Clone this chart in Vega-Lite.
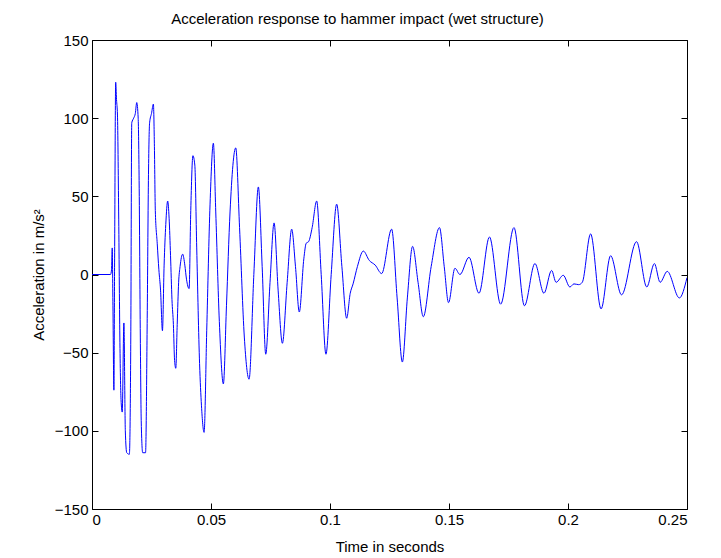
{
  "$schema": "https://vega.github.io/schema/vega-lite/v6.json",
  "width": 595,
  "height": 469,
  "autosize": "none",
  "padding": {"left": 92, "top": 40, "right": 34, "bottom": 49},
  "background": "white",
  "title": {"text": "Acceleration response to hammer impact (wet structure)", "fontSize": 15, "font": "Liberation Sans", "fontWeight": "normal", "color": "black", "offset": 6, "anchor": "middle", "dx": -32},
  "config": {
    "view": {"stroke": "black", "strokeWidth": 1},
    "axis": {"domain": false, "grid": false, "tickSize": -6, "tickColor": "black", "tickWidth": 1, "labelFont": "Liberation Sans", "labelFontSize": 15, "labelColor": "black", "titleFont": "Liberation Sans", "titleFontSize": 15, "titleFontWeight": "normal", "titleColor": "black"}
  },
  "data": {"values": [
    {"t": 0, "a": 0}, {"t": 0.0078, "a": 0}, {"t": 0.0082, "a": 3}, {"t": 0.0085, "a": 17}, {"t": 0.0088, "a": -20}, {"t": 0.0092, "a": -74}, {"t": 0.0095, "a": 10}, {"t": 0.00995, "a": 123}, {"t": 0.0103, "a": 112}, {"t": 0.0107, "a": 102}, {"t": 0.0112, "a": 40}, {"t": 0.0117, "a": -40}, {"t": 0.0122, "a": -80}, {"t": 0.0127, "a": -88}, {"t": 0.0134, "a": -31}, {"t": 0.014, "a": -100}, {"t": 0.0146, "a": -114}, {"t": 0.0157, "a": -115}, {"t": 0.0163, "a": -40}, {"t": 0.0167, "a": 97}, {"t": 0.0175, "a": 100}, {"t": 0.0182, "a": 103}, {"t": 0.0188, "a": 110}, {"t": 0.0194, "a": 100}, {"t": 0.0198, "a": 60}, {"t": 0.0203, "a": -40}, {"t": 0.0207, "a": -95}, {"t": 0.0213, "a": -114}, {"t": 0.0225, "a": -114}, {"t": 0.0232, "a": -28}, {"t": 0.0237, "a": 60}, {"t": 0.0242, "a": 97}, {"t": 0.025, "a": 103}, {"t": 0.0258, "a": 109}, {"t": 0.0262, "a": 84}, {"t": 0.0266, "a": 41}, {"t": 0.0274, "a": 20}, {"t": 0.0281, "a": 3}, {"t": 0.0288, "a": -10}, {"t": 0.0296, "a": -36}, {"t": 0.0303, "a": 6}, {"t": 0.031, "a": 32}, {"t": 0.0318, "a": 47}, {"t": 0.0324, "a": 36}, {"t": 0.033, "a": 12}, {"t": 0.0336, "a": -16}, {"t": 0.0342, "a": -32}, {"t": 0.0347, "a": -55}, {"t": 0.0352, "a": -60}, {"t": 0.0358, "a": -32}, {"t": 0.0364, "a": -5}, {"t": 0.037, "a": 5}, {"t": 0.0381, "a": 13}, {"t": 0.039, "a": 6}, {"t": 0.0397, "a": -3}, {"t": 0.0408, "a": -9}, {"t": 0.0415, "a": 41}, {"t": 0.0424, "a": 76}, {"t": 0.0432, "a": 70}, {"t": 0.044, "a": 17}, {"t": 0.0452, "a": -57}, {"t": 0.046, "a": -84}, {"t": 0.0471, "a": -101}, {"t": 0.0482, "a": -36}, {"t": 0.0496, "a": 45}, {"t": 0.051, "a": 84}, {"t": 0.052, "a": 40}, {"t": 0.0535, "a": -30}, {"t": 0.0552, "a": -70}, {"t": 0.0565, "a": -20}, {"t": 0.058, "a": 40}, {"t": 0.0604, "a": 81}, {"t": 0.062, "a": 30}, {"t": 0.064, "a": -40}, {"t": 0.066, "a": -67}, {"t": 0.068, "a": 0}, {"t": 0.0699, "a": 56}, {"t": 0.0715, "a": 5}, {"t": 0.073, "a": -51}, {"t": 0.0748, "a": -5}, {"t": 0.0765, "a": 33}, {"t": 0.0782, "a": -10}, {"t": 0.08, "a": -44}, {"t": 0.082, "a": -5}, {"t": 0.0839, "a": 29}, {"t": 0.0855, "a": 5}, {"t": 0.0871, "a": -24}, {"t": 0.089, "a": 10}, {"t": 0.09, "a": 20}, {"t": 0.091, "a": 21}, {"t": 0.0925, "a": 30}, {"t": 0.0944, "a": 47}, {"t": 0.0963, "a": 0}, {"t": 0.0983, "a": -51}, {"t": 0.1005, "a": 0}, {"t": 0.1028, "a": 45}, {"t": 0.105, "a": 5}, {"t": 0.107, "a": -28}, {"t": 0.1085, "a": -12}, {"t": 0.1097, "a": -6}, {"t": 0.1115, "a": 5}, {"t": 0.114, "a": 15}, {"t": 0.1165, "a": 9}, {"t": 0.119, "a": 6}, {"t": 0.1217, "a": 0.6}, {"t": 0.1259, "a": 29}, {"t": 0.1282, "a": -15}, {"t": 0.1304, "a": -56}, {"t": 0.1325, "a": -15}, {"t": 0.1347, "a": 18}, {"t": 0.137, "a": -5}, {"t": 0.1392, "a": -27}, {"t": 0.1425, "a": 5}, {"t": 0.146, "a": 30}, {"t": 0.148, "a": 5}, {"t": 0.1498, "a": -18}, {"t": 0.1525, "a": 4}, {"t": 0.1546, "a": 0}, {"t": 0.1584, "a": 11}, {"t": 0.1626, "a": -12}, {"t": 0.167, "a": 24}, {"t": 0.1717, "a": -19}, {"t": 0.1773, "a": 30}, {"t": 0.1817, "a": -20}, {"t": 0.1861, "a": 7}, {"t": 0.1899, "a": -12}, {"t": 0.1931, "a": 2.6}, {"t": 0.195, "a": -5}, {"t": 0.198, "a": -0.5}, {"t": 0.2008, "a": -8}, {"t": 0.2025, "a": -6}, {"t": 0.2045, "a": -6.5}, {"t": 0.206, "a": -5}, {"t": 0.2095, "a": 26}, {"t": 0.2139, "a": -22}, {"t": 0.2179, "a": 12}, {"t": 0.2225, "a": -13}, {"t": 0.2288, "a": 21}, {"t": 0.2331, "a": -8}, {"t": 0.2363, "a": 7}, {"t": 0.2387, "a": -5}, {"t": 0.2417, "a": 2}, {"t": 0.2468, "a": -15}, {"t": 0.25, "a": -2}
  ]},
  "layer": [
    {
      "mark": {"type": "line", "color": "#0000ff", "strokeWidth": 1, "interpolate": "monotone", "clip": true},
      "encoding": {
        "x": {"field": "t", "type": "quantitative", "scale": {"domain": [0, 0.25], "nice": false, "zero": false}, "axis": {"title": "Time in seconds", "values": [0, 0.05, 0.1, 0.15, 0.2, 0.25], "format": "~g", "labelPadding": 9, "titlePadding": 12}},
        "y": {"field": "a", "type": "quantitative", "scale": {"domain": [-150, 150], "nice": false}, "axis": {"title": "Acceleration in m/s²", "values": [-150, -100, -50, 0, 50, 100, 150], "labelPadding": 10, "titlePadding": 8}}
      }
    },
    {
      "mark": {"type": "line", "opacity": 0},
      "encoding": {
        "x": {"field": "t", "type": "quantitative", "scale": {"domain": [0, 0.25], "nice": false, "zero": false}, "axis": {"orient": "top", "title": null, "labels": false, "values": [0, 0.05, 0.1, 0.15, 0.2, 0.25]}},
        "y": {"field": "a", "type": "quantitative", "scale": {"domain": [-150, 150], "nice": false}, "axis": {"orient": "right", "title": null, "labels": false, "values": [-150, -100, -50, 0, 50, 100, 150]}}
      }
    }
  ],
  "resolve": {"axis": {"x": "independent", "y": "independent"}}
}
